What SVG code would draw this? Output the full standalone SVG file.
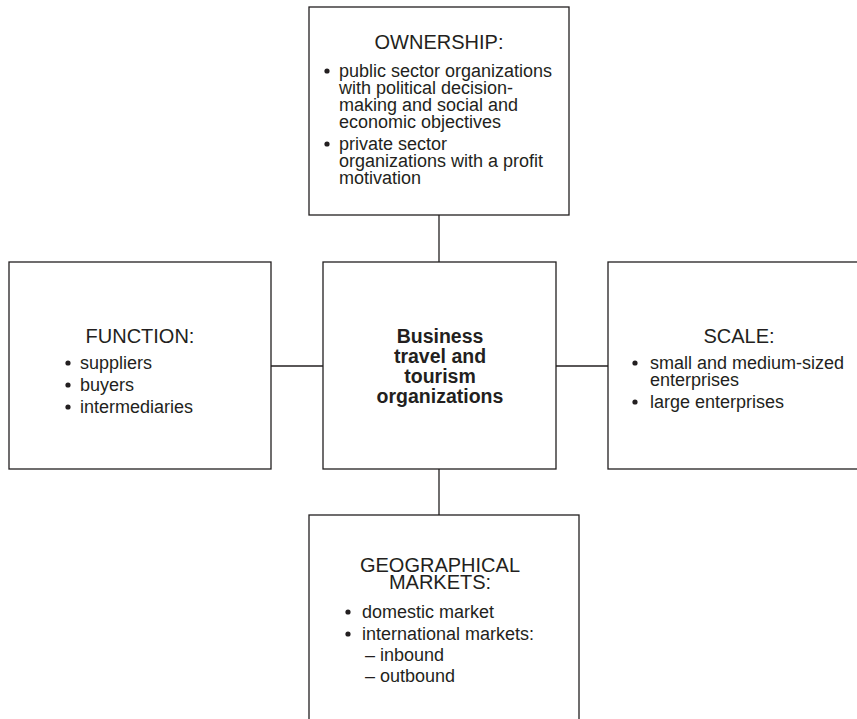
<svg xmlns="http://www.w3.org/2000/svg" width="857" height="719" viewBox="0 0 857 719">
<style>
.box{fill:#fff;stroke:#231f20;stroke-width:1.3}
.con{stroke:#231f20;stroke-width:1.3;fill:none}
.h{font-family:"Liberation Sans",Arial,sans-serif;font-size:20px;fill:#231f20;text-anchor:middle}
.t{font-family:"Liberation Sans",Arial,sans-serif;font-size:18px;fill:#231f20}
.c{font-family:"Liberation Sans",Arial,sans-serif;font-size:19.5px;font-weight:bold;fill:#231f20;text-anchor:middle}
.b{fill:#231f20}
</style>
<rect width="857" height="719" fill="#fff"/>
<g id="connectors">
<line class="con" x1="439" y1="215" x2="439" y2="262"/>
<line class="con" x1="271" y1="366" x2="323" y2="366"/>
<line class="con" x1="556" y1="366" x2="608" y2="366"/>
<line class="con" x1="439" y1="469" x2="439" y2="515"/>
</g>
<g id="ownership">
<rect class="box" x="309" y="7" width="260" height="208"/>
<text class="h" x="439" y="49">OWNERSHIP:</text>
<circle class="b" cx="327" cy="71" r="2.6"/>
<text class="t" x="339" y="77">public sector organizations</text>
<text class="t" x="339" y="94">with political decision-</text>
<text class="t" x="339" y="111">making and social and</text>
<text class="t" x="339" y="128">economic objectives</text>
<circle class="b" cx="327" cy="144" r="2.6"/>
<text class="t" x="339" y="150">private sector</text>
<text class="t" x="339" y="167">organizations with a profit</text>
<text class="t" x="339" y="184">motivation</text>
</g>
<g id="function">
<rect class="box" x="9" y="262" width="262" height="207"/>
<text class="h" x="140" y="343">FUNCTION:</text>
<circle class="b" cx="68" cy="363" r="2.6"/>
<text class="t" x="80" y="369">suppliers</text>
<circle class="b" cx="68" cy="385" r="2.6"/>
<text class="t" x="80" y="391">buyers</text>
<circle class="b" cx="68" cy="407" r="2.6"/>
<text class="t" x="80" y="413">intermediaries</text>
</g>
<g id="center">
<rect class="box" x="323" y="262" width="233" height="207"/>
<text class="c" x="440" y="343">Business</text>
<text class="c" x="440" y="363">travel and</text>
<text class="c" x="440" y="383">tourism</text>
<text class="c" x="440" y="403">organizations</text>
</g>
<g id="scale">
<rect class="box" x="608" y="262" width="262" height="207"/>
<text class="h" x="739" y="343">SCALE:</text>
<circle class="b" cx="635" cy="363" r="2.6"/>
<text class="t" x="650" y="369">small and medium-sized</text>
<text class="t" x="650" y="386">enterprises</text>
<circle class="b" cx="635" cy="402" r="2.6"/>
<text class="t" x="650" y="408">large enterprises</text>
</g>
<g id="geographical">
<rect class="box" x="309" y="515" width="270" height="220"/>
<text class="h" x="440" y="572">GEOGRAPHICAL</text>
<text class="h" x="440" y="589">MARKETS:</text>
<circle class="b" cx="348" cy="612" r="2.6"/>
<text class="t" x="362" y="618">domestic market</text>
<circle class="b" cx="348" cy="634" r="2.6"/>
<text class="t" x="362" y="640">international markets:</text>
<text class="t" x="365" y="661">–</text>
<text class="t" x="380" y="661">inbound</text>
<text class="t" x="365" y="682">–</text>
<text class="t" x="380" y="682">outbound</text>
</g>
</svg>
